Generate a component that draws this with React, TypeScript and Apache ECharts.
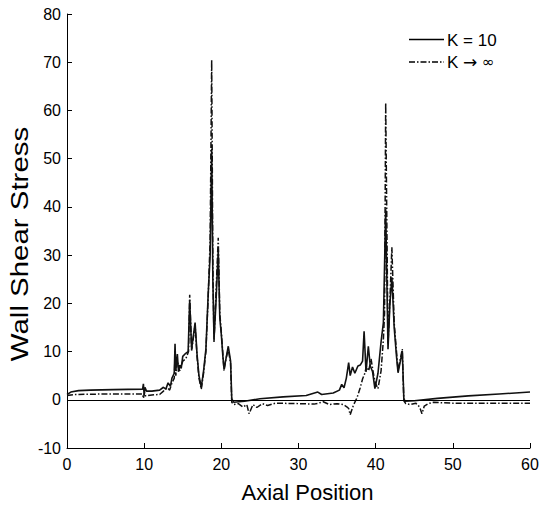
import React, { useEffect, useRef } from "react";
import * as echarts from "echarts";

// Axial position / wall shear stress samples
const k10Points: [number, number][] = [
  [0, 1.1], [0.5, 1.6], [1.5, 1.9], [3, 2.0], [6, 2.1], [9.8, 2.2], [9.9, 3.3], [10.0, 1.0],
  [10.1, 2.6], [10.3, 1.8], [11, 1.8], [12, 2.0], [12.5, 2.6], [12.8, 2.2], [13.1, 3.5],
  [13.4, 2.8], [13.6, 4.5], [13.9, 5.5], [14.0, 11.6], [14.1, 6.0], [14.3, 9.5], [14.45, 5.8],
  [14.6, 7.2], [14.8, 6.5], [15.0, 9.0], [15.3, 9.5], [15.7, 10.0], [15.9, 20.6], [16.15, 10.5],
  [16.6, 16.0], [16.85, 9.5], [17.1, 5.0], [17.4, 2.6], [17.7, 6.0], [18.0, 10.5], [18.3, 22.0],
  [18.55, 30], [18.75, 52], [18.9, 25], [19.05, 12.5], [19.3, 20], [19.6, 31], [19.8, 17],
  [20.0, 13.5], [20.2, 9.0], [20.35, 6.4], [20.6, 8.5], [20.9, 11.1], [21.2, 8.0], [21.35, 0.2],
  [21.6, -0.5], [23, -0.3], [25, 0.2], [28, 0.6], [31, 0.9], [32.5, 1.6], [33, 1.1], [34.5, 1.4],
  [35.3, 2.0], [35.6, 3.2], [35.9, 2.5], [36.2, 4.5], [36.5, 7.7], [36.7, 5.0], [37.0, 6.8],
  [37.3, 5.5], [37.7, 7.0], [38.0, 7.2], [38.3, 8.0], [38.5, 14.2], [38.75, 5.8], [39.05, 11.1],
  [39.3, 7.0], [39.6, 5.8], [39.9, 2.3], [40.3, 5.5], [40.7, 12], [41.0, 16], [41.3, 39.5],
  [41.6, 10.5], [41.85, 20], [42.1, 25.4], [42.4, 15], [42.7, 9], [42.9, 5.6], [43.2, 8],
  [43.45, 10.1], [43.65, 0.3], [43.8, -0.3], [45, -0.2], [48, 0.3], [52, 0.8], [56, 1.2], [60, 1.6],
];

const kInfPoints: [number, number][] = [
  [0, 0.9], [1, 1.1], [5, 1.2], [9.8, 1.2], [9.9, 0.3], [10.05, 1.5], [10.2, 0.8], [11, 1.0],
  [12, 1.1], [12.5, 1.8], [13.0, 2.5], [13.3, 2.0], [13.6, 3.5], [13.9, 4.5], [14.0, 9.5],
  [14.1, 5.0], [14.3, 8.0], [14.6, 6.0], [15.0, 8.0], [15.4, 8.5], [15.75, 10], [15.9, 21.8],
  [16.15, 10.2], [16.6, 15.5], [16.85, 9.0], [17.1, 4.5], [17.4, 2.2], [17.7, 5.5], [18.0, 10.0],
  [18.3, 21.5], [18.55, 33], [18.75, 70.5], [18.9, 28], [19.05, 12.0], [19.3, 22], [19.6, 33.6],
  [19.8, 18], [20.0, 14], [20.2, 9.5], [20.35, 6.0], [20.6, 8.5], [20.9, 10.5], [21.2, 7.5],
  [21.35, -0.5], [21.6, -1.0], [22.2, -0.8], [22.8, -1.5], [23.3, -1.0], [23.6, -2.9],
  [24.1, -1.0], [24.6, -1.6], [25.3, -0.8], [26, -1.2], [27, -0.7], [30, -0.8], [32, -0.9],
  [32.6, -0.7], [33.2, -0.4], [34, -1.0], [35, -0.8], [35.8, -1.0], [36.3, -1.5], [36.5, -1.8],
  [36.7, -3.1], [37.1, -1.2], [37.6, 0.5], [38.0, 2.5], [38.3, 4.3], [38.6, 5.5], [38.8, 7.0],
  [39.1, 6.0], [39.4, 8.5], [39.7, 5.5], [39.95, 3.5], [40.3, 2.3], [40.7, 6.0], [41.0, 12.5],
  [41.15, 18], [41.3, 61.6], [41.6, 11.5], [41.85, 21], [42.1, 31.6], [42.4, 16], [42.7, 10],
  [42.9, 6.0], [43.2, 8.5], [43.45, 10.5], [43.65, -0.2], [43.9, -0.8], [44.5, -1.0],
  [45.2, -0.7], [45.7, -1.5], [46.0, -2.9], [46.3, -1.3], [46.8, -0.8], [47.5, -0.5],
  [48.5, -0.6], [50, -0.7], [55, -0.7], [60, -0.7],
];

const seriesNames = ["K = 10", "K \u2192 \u221e"];
const xTitle = "Axial Position";
const yTitle = "Wall Shear Stress";
const xTicks = { min: 0, max: 60, interval: 10 };
const yTicks = { min: -10, max: 80, interval: 10 };

const FONT = "Liberation Sans, Arial, Helvetica, sans-serif";

export default function App() {
  const ref = useRef<HTMLDivElement>(null);
  useEffect(() => {
    if (!ref.current) return;
    const chart = echarts.init(ref.current, undefined, { renderer: "svg" });
    const axisCommon = {
      axisLine: { show: true, onZero: false, lineStyle: { color: "#000", width: 1 } },
      axisTick: { show: true, inside: true, length: 5, lineStyle: { color: "#000", width: 1 } },
      splitLine: { show: false },
      axisLabel: { color: "#000", fontSize: 16, fontFamily: FONT },
    };
    chart.setOption({
      animation: false,
      backgroundColor: "#fff",
      grid: { left: 67, right: 12, top: 14, bottom: 55, containLabel: false },
      xAxis: {
        type: "value",
        ...xTicks,
        ...axisCommon,
        axisLabel: { ...axisCommon.axisLabel, margin: 8 },
        name: xTitle,
        nameLocation: "middle",
        nameGap: 33,
        nameTextStyle: { color: "#000", fontSize: 22, fontFamily: FONT, padding: [0, 0, 0, 18] },
      },
      yAxis: {
        type: "value",
        ...yTicks,
        ...axisCommon,
        axisLabel: { ...axisCommon.axisLabel, margin: 6 },
      },
      series: [
        {
          name: seriesNames[0],
          type: "line",
          data: k10Points,
          showSymbol: false,
          symbol: "none",
          lineStyle: { color: "#111", width: 1.6 },
          z: 3,
          markLine: {
            silent: true,
            symbol: "none",
            label: { show: false },
            lineStyle: { color: "#000", width: 1, type: "solid" },
            data: [{ yAxis: 0 }],
          },
        },
        {
          name: seriesNames[1],
          type: "line",
          data: kInfPoints,
          showSymbol: false,
          symbol: "none",
          lineStyle: { color: "#111", width: 1.5, type: [6, 2, 1.5, 2] },
          z: 2,
        },
      ],
      graphic: [
        {
          type: "text",
          x: 20,
          y: 244,
          rotation: Math.PI / 2,
          scaleX: 1.28,
          style: {
            text: yTitle,
            fill: "#000",
            font: `23px ${FONT}`,
            align: "center",
            verticalAlign: "middle",
          },
        },
        {
          type: "line",
          shape: { x1: 409, y1: 39.5, x2: 444, y2: 39.5 },
          style: { stroke: "#000", lineWidth: 1.5 },
        },
        {
          type: "text",
          x: 447,
          y: 40,
          style: { text: seriesNames[0], fill: "#000", font: `17px ${FONT}`, verticalAlign: "middle" },
        },
        {
          type: "line",
          shape: { x1: 409, y1: 62, x2: 444, y2: 62 },
          style: { stroke: "#000", lineWidth: 1.4, lineDash: [6, 2, 1.5, 2] },
        },
        {
          type: "text",
          x: 447,
          y: 62,
          style: {
            text: "K {a|\u2192} {b|\u221e}",
            fill: "#000",
            font: `17px ${FONT}`,
            verticalAlign: "middle",
            rich: {
              a: { fontFamily: "DejaVu Sans", fontSize: 17, fill: "#000" },
              b: { fontFamily: "DejaVu Sans", fontSize: 15, fill: "#000" },
            },
          },
        },
      ],
    });
    return () => chart.dispose();
  }, []);
  return <div ref={ref} style={{ width: 542, height: 508, position: "absolute", left: 0, top: 0 }} />;
}
